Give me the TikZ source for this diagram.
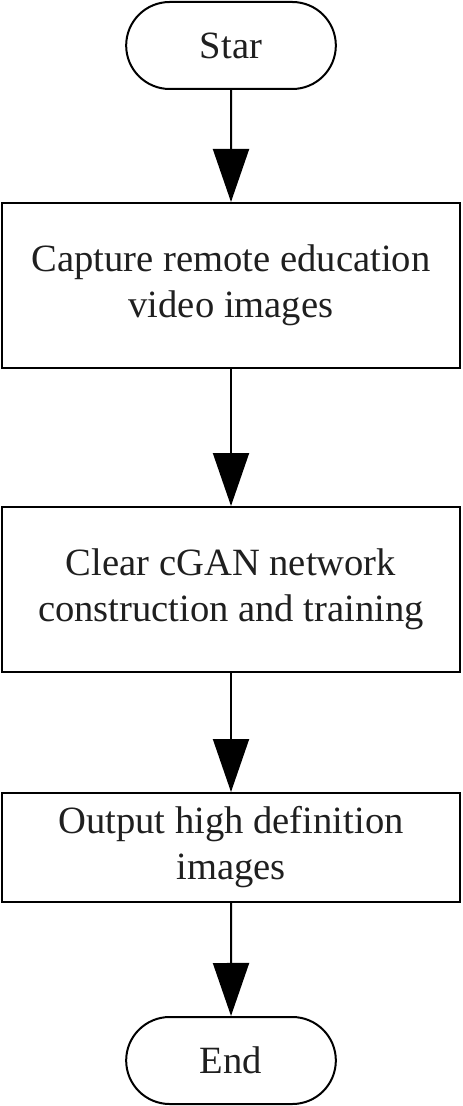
\documentclass[tikz,border=0pt]{standalone}
\usepackage{fontspec}
\setmainfont{Liberation Serif}
\usetikzlibrary{arrows.meta, positioning, shapes.misc}
\tikzset{
  terminal/.style={draw, rounded rectangle, line width=1pt, align=center, minimum width=111.5pt, minimum height=43.5pt},
  process/.style={draw, line width=1pt, align=center, minimum width=229pt, inner sep=0pt},
  arrow/.style={-{Triangle[length=26.5pt, width=18pt]}, line width=1pt},
  every node/.style={font=\fontsize{19.3}{23}\selectfont, text=black!88}
}
\begin{document}
\begin{tikzpicture}[x=0.5pt, y=-0.5pt]
    \useasboundingbox (0,0) rectangle (462,1106);
    \node[terminal] (start) at (231,45.5) {Star};
    \node[process, minimum height=82.5pt, below=56pt of start] (capture) {Capture remote education\\video images};
    \node[process, minimum height=82.5pt, below=68.5pt of capture] (train) {Clear cGAN network\\construction and training};
    \node[process, minimum height=54.5pt, below=59.5pt of train] (output) {Output high definition\\images};
    \node[terminal, below=56.5pt of output] (finish) {End};

    \draw[arrow] (start) -- (capture);
    \draw[arrow] (capture) -- (train);
    \draw[arrow] (train) -- (output);
    \draw[arrow] (output) -- (finish);
\end{tikzpicture}
\end{document}
